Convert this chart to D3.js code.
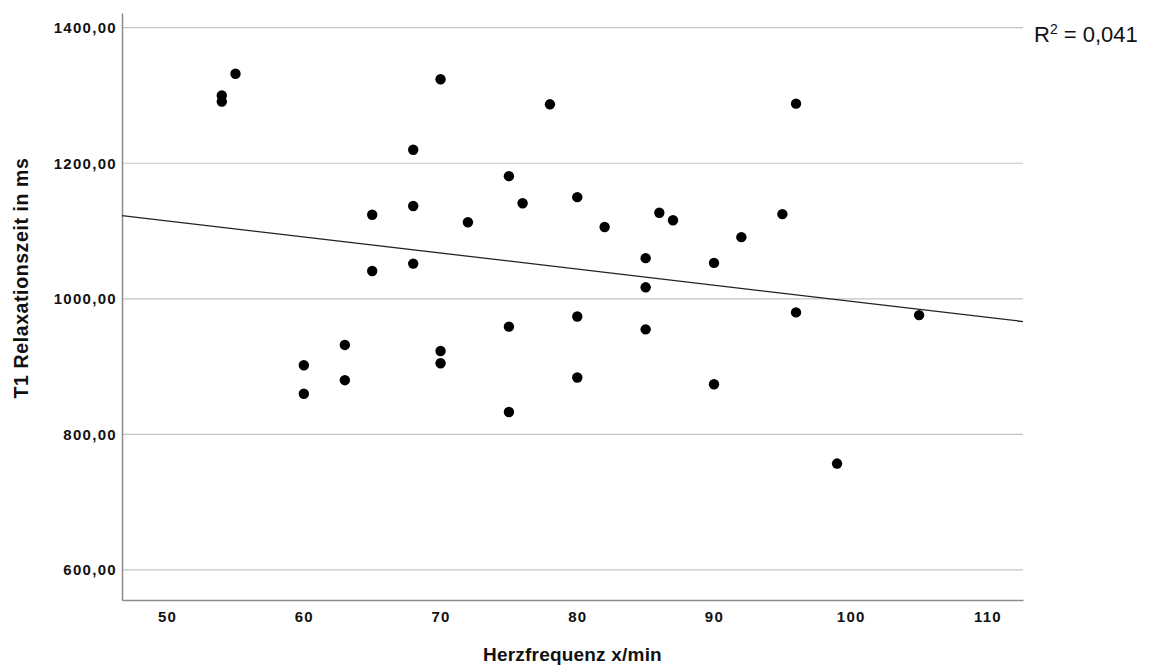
<!DOCTYPE html>
<html>
<head>
<meta charset="utf-8">
<script src="https://cdn.jsdelivr.net/npm/d3@7"></script>
<style>
  body { margin: 0; background: #fff; }
  .tick text { font-family: "Liberation Sans", Arial, sans-serif; font-weight: bold; font-size: 15px; letter-spacing: 1.3px; fill: #111; }
</style>
</head>
<body>
<div id="chart"></div>
<script>
// heart rate (x/min) and T1 relaxation time (ms)
let herzfrequenz = [54, 54, 55, 60, 60, 63, 63, 65, 65, 68, 68, 68, 70, 70, 70, 72, 75, 75, 75, 76,
                    78, 80, 80, 80, 82, 85, 85, 85, 86, 87, 90, 90, 92, 95, 96, 96, 99, 105];
let t1Zeit = [1300, 1291, 1332, 902, 860, 932, 880, 1124, 1041, 1220, 1137, 1052, 1324, 923, 905, 1113, 1181, 959, 833, 1141,
              1287, 1150, 974, 884, 1106, 1060, 1017, 955, 1127, 1116, 1053, 874, 1091, 1125, 1288, 980, 757, 976];
let xTicks = [50, 60, 70, 80, 90, 100, 110];
let yTicks = [600, 800, 1000, 1200, 1400];
// linear fit line as shown (ends at the axis limits)
let fitX = [46.7, 112.6];
let fitY = [1122.9, 966.5];
let rSquaredLabel = "0,041";

let width = 1150;
let height = 667;
let padLeft = 122, padRight = 1023, padTop = 13, padBottom = 600;

let svg = d3.select("#chart").append("svg")
            .attr("width", width)
            .attr("height", height);

let xScale = d3.scaleLinear()
                .domain([46.7, 112.6])
                .range([padLeft, padRight]);

let yScale = d3.scaleLinear()
                .domain([555.7, 1421.7])
                .range([padBottom, padTop]);

let de = d3.formatLocale({decimal: ",", thousands: ".", grouping: [3], currency: ["", " €"]});
let fmt = de.format(".2f");

// grid lines
svg.append("g")
    .selectAll("line")
    .data(yTicks)
    .enter()
    .append("line")
    .attr("x1", padLeft)
    .attr("x2", padRight)
    .attr("y1", d => yScale(d))
    .attr("y2", d => yScale(d))
    .attr("stroke", "#c4c4c4")
    .attr("stroke-width", 1.2);

let yAxis = d3.axisLeft(yScale)
                .tickValues(yTicks)
                .tickFormat(fmt)
                .tickSize(0)
                .tickPadding(5);

let xAxis = d3.axisBottom(xScale)
                .tickValues(xTicks)
                .tickSize(0)
                .tickPadding(11);

let gy = svg.append("g")
    .attr("transform", `translate(${padLeft},0)`)
    .call(yAxis);
gy.select(".domain").attr("stroke", "#8a8a8a").attr("stroke-width", 1.5);

let gx = svg.append("g")
    .attr("transform", `translate(0,${padBottom})`)
    .call(xAxis);
gx.select(".domain").attr("stroke", "#8a8a8a").attr("stroke-width", 1.5);

svg.append("line")
    .attr("x1", xScale(fitX[0]))
    .attr("x2", xScale(fitX[1]))
    .attr("y1", yScale(fitY[0]))
    .attr("y2", yScale(fitY[1]))
    .attr("stroke", "#222")
    .attr("stroke-width", 1.3);

svg.append("g")
    .selectAll("circle")
    .data(herzfrequenz)
    .enter()
    .append("circle")
    .attr("cx", d => xScale(d))
    .attr("cy", (d, i) => yScale(t1Zeit[i]))
    .attr("r", 5.2)
    .attr("fill", "#000");

// R² label
let r2 = svg.append("text")
    .attr("x", 1034)
    .attr("y", 42)
    .attr("font-family", "Liberation Sans, Arial, sans-serif")
    .attr("font-size", "22px")
    .attr("fill", "#111");
r2.append("tspan").text("R");
r2.append("tspan").text("2").attr("font-size", "14px").attr("dy", -8);
r2.append("tspan").text(" = " + rSquaredLabel).attr("dy", 8);

svg.append("text")
    .text("Herzfrequenz x/min")
    .attr("x", (padLeft + padRight) / 2)
    .attr("y", 661)
    .attr("text-anchor", "middle")
    .attr("font-family", "Liberation Sans, Arial, sans-serif")
    .attr("font-weight", "bold")
    .attr("font-size", "19px")
    .attr("letter-spacing", "0.2px")
    .attr("fill", "#111");

svg.append("text")
    .text("T1 Relaxationszeit in ms")
    .attr("transform", "translate(28,278) rotate(-90)")
    .attr("text-anchor", "middle")
    .attr("font-family", "Liberation Sans, Arial, sans-serif")
    .attr("font-weight", "bold")
    .attr("font-size", "19.5px")
    .attr("letter-spacing", "0.6px")
    .attr("fill", "#111");
</script>
</body>
</html>
